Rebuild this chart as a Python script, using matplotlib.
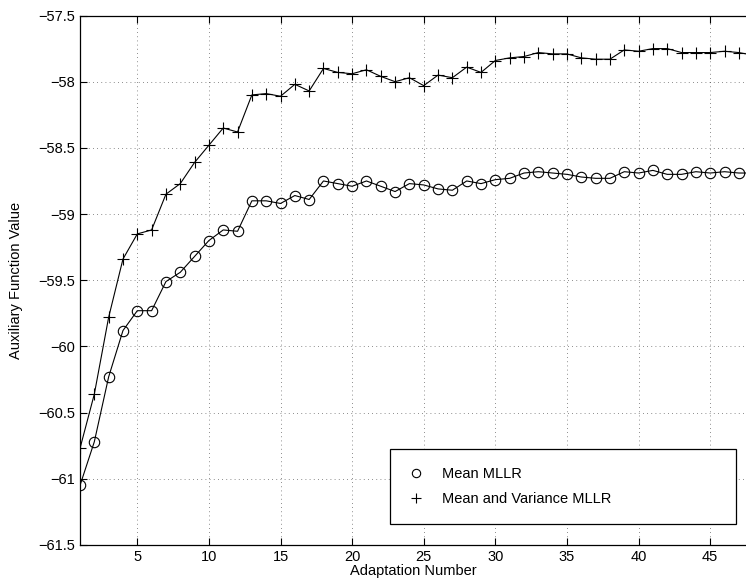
import numpy as np
import matplotlib.pyplot as plt
from matplotlib.ticker import FuncFormatter
from matplotlib.lines import Line2D

plt.rcParams['font.family'] = ['Liberation Sans', 'DejaVu Sans']

# Data
adapt = list(range(1, 49))
mean_mllr = [-61.05, -60.72, -60.23, -59.88, -59.73, -59.73, -59.51, -59.44, -59.32, -59.20,
             -59.12, -59.13, -58.90, -58.90, -58.92, -58.86, -58.89, -58.75, -58.77, -58.79,
             -58.75, -58.79, -58.83, -58.77, -58.78, -58.81, -58.82, -58.75, -58.77, -58.74,
             -58.73, -58.69, -58.68, -58.69, -58.70, -58.72, -58.73, -58.73, -58.68, -58.69,
             -58.67, -58.70, -58.70, -58.68, -58.69, -58.68, -58.69, -58.69]
mean_var_mllr = [-60.77, -60.36, -59.78, -59.34, -59.15, -59.12, -58.85, -58.77, -58.61, -58.48,
                 -58.35, -58.38, -58.10, -58.09, -58.11, -58.02, -58.07, -57.90, -57.93, -57.94,
                 -57.91, -57.96, -58.00, -57.97, -58.03, -57.95, -57.97, -57.89, -57.93, -57.84,
                 -57.82, -57.81, -57.78, -57.79, -57.79, -57.82, -57.83, -57.83, -57.76, -57.77,
                 -57.75, -57.75, -57.78, -57.78, -57.78, -57.77, -57.78, -57.80]
labels = ['Mean MLLR', 'Mean and Variance MLLR']

W, H = 746, 587
fig = plt.figure(figsize=(W/100, H/100), dpi=100)
ax = fig.add_axes([80/W, (H-545)/H, 1-80/W, (545-15.5)/H])

ax.plot(adapt, mean_mllr, 'k-', lw=0.8, marker='o', ms=7.5, mfc='none', mew=0.8)
ax.plot(adapt, mean_var_mllr, 'k-', lw=0.8, marker='+', ms=8, mew=0.8)

ax.set_xlim(1, 47.5)
ax.set_ylim(-61.5, -57.5)
ax.set_xticks(np.arange(5, 50, 5))
ax.set_yticks(np.arange(-61.5, -57.4, 0.5))
ax.yaxis.set_major_formatter(FuncFormatter(lambda v, p: ('%g' % v).replace('-', '\u2212')))
ax.grid(True, ls=(0, (1, 4)), color='k', lw=0.6, alpha=0.6)
ax.tick_params(direction='in', top=True, right=False, length=5, width=0.8, labelsize=10.5, colors='k')
ax.spines['right'].set_visible(False)
for s in ['left', 'bottom', 'top']:
    ax.spines[s].set_linewidth(0.9)

ax.set_xlabel('Adaptation Number', fontsize=10.5, labelpad=0)
ax.set_ylabel('Auxiliary Function Value', fontsize=10.5, labelpad=11)

handles = [Line2D([], [], ls='none', marker='o', ms=6, mfc='none', mec='k', mew=0.8),
           Line2D([], [], ls='none', marker='+', ms=7, mec='k', mew=0.8)]
leg = ax.legend(handles, labels, loc='lower left', mode='expand', fontsize=10.5, frameon=True,
                fancybox=False, edgecolor='k', framealpha=1, borderpad=1.25, handlelength=1.0,
                handletextpad=1.3, labelspacing=0.75,
                bbox_to_anchor=(390/W, (H-524)/H, 346/W, 77/H), bbox_transform=fig.transFigure,
                borderaxespad=0)
leg.get_frame().set_linewidth(0.9)

fig.savefig('out.png', dpi=100)
plt.close(fig)
